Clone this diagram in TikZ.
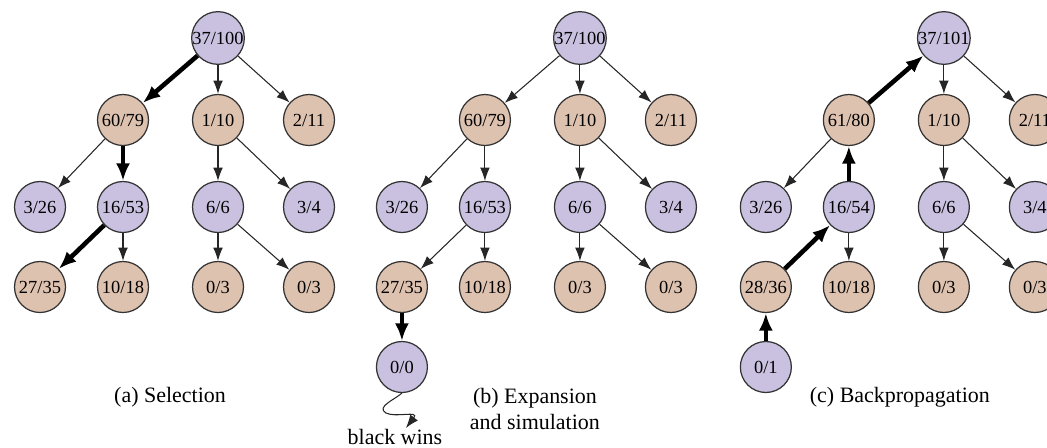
\documentclass[tikz,border=0pt]{standalone}
\usepackage{fontspec}
\setmainfont{Liberation Serif}
\usepackage{tikz}
\usetikzlibrary{arrows.meta}
\definecolor{purplec}{HTML}{C9C1DF}
\definecolor{tanc}{HTML}{DEC2B0}
\definecolor{rimc}{HTML}{333333}
\newcommand{\mcnode}[5]{%
  \node[mcts,fill=#4] (#1) at (#2,#3) {#5};
}
\tikzset{
  mcts/.style={circle,draw=rimc,line width=0.7pt,minimum size=1.02cm,inner sep=0pt,
    font=\fontsize{10.5}{12}\selectfont},
  thinarr/.style={-{Latex[length=7.5pt,width=5.5pt]},line width=0.6pt,black!85},
  boldarr/.style={-{Latex[length=10pt,width=8pt]},line width=2.6pt,black},
  caption/.style={font=\fontsize{12.5}{15}\selectfont,align=center}
}

\begin{document}
\begin{tikzpicture}[x=0.02cm,y=-0.02cm]
  \useasboundingbox (0,0) rectangle (1047,447);
  \clip (0,0) rectangle (1047,447);

  % (a) selection
  \begin{scope}
    \mcnode{a0}{218}{38}{purplec}{37/100}
    \mcnode{a1}{123}{120}{tanc}{60/79}
    \mcnode{a2}{218}{120}{tanc}{1/10}
    \mcnode{a3}{309}{120}{tanc}{2/11}
    \mcnode{a4}{40}{207}{purplec}{3/26}
    \mcnode{a5}{123}{207}{purplec}{16/53}
    \mcnode{a6}{218}{207}{purplec}{6/6}
    \mcnode{a7}{309}{207}{purplec}{3/4}
    \mcnode{a8}{40}{287}{tanc}{27/35}
    \mcnode{a9}{123}{287}{tanc}{10/18}
    \mcnode{a10}{218}{287}{tanc}{0/3}
    \mcnode{a11}{309}{287}{tanc}{0/3}
    \foreach \u/\v in {a0/a2,a0/a3,a1/a4,a2/a6,a2/a7,a5/a9,a6/a10,a6/a11}
      \draw[thinarr] (\u) -- (\v);
    \foreach \u/\v in {a0/a1,a1/a5,a5/a8}
      \draw[boldarr] (\u) -- (\v);
    \node[caption] (capa) at (170,397) {(a) Selection};
  \end{scope}

  % (b) expansion and simulation
  \begin{scope}[xshift=7.24cm]
    \mcnode{b0}{218}{38}{purplec}{37/100}
    \mcnode{b1}{123}{120}{tanc}{60/79}
    \mcnode{b2}{218}{120}{tanc}{1/10}
    \mcnode{b3}{309}{120}{tanc}{2/11}
    \mcnode{b4}{40}{207}{purplec}{3/26}
    \mcnode{b5}{123}{207}{purplec}{16/53}
    \mcnode{b6}{218}{207}{purplec}{6/6}
    \mcnode{b7}{309}{207}{purplec}{3/4}
    \mcnode{b8}{40}{287}{tanc}{27/35}
    \mcnode{b9}{123}{287}{tanc}{10/18}
    \mcnode{b10}{218}{287}{tanc}{0/3}
    \mcnode{b11}{309}{287}{tanc}{0/3}
    \mcnode{b12}{40}{367}{purplec}{0/0}
    \foreach \u/\v in {b0/b1,b0/b2,b0/b3,b1/b4,b1/b5,b2/b6,b2/b7,b5/b8,b5/b9,b6/b10,b6/b11}
      \draw[thinarr] (\u) -- (\v);
    \draw[boldarr] (b8) -- (b12);
    \node[caption] (bw) at (33,437) {black wins};
    \coordinate (bwtip) at (44,428);
    \draw[thinarr] (b12.south) .. controls (32,400) and (14,407) .. (24,413)
      .. controls (34,418) and (58,410) .. (bwtip);
    \node[caption] (capb) at (173,409) {(b) Expansion\\and simulation};
  \end{scope}

  % (c) backpropagation
  \begin{scope}[xshift=14.52cm]
    \mcnode{c0}{218}{38}{purplec}{37/101}
    \mcnode{c1}{123}{120}{tanc}{61/80}
    \mcnode{c2}{218}{120}{tanc}{1/10}
    \mcnode{c3}{309}{120}{tanc}{2/11}
    \mcnode{c4}{40}{207}{purplec}{3/26}
    \mcnode{c5}{123}{207}{purplec}{16/54}
    \mcnode{c6}{218}{207}{purplec}{6/6}
    \mcnode{c7}{309}{207}{purplec}{3/4}
    \mcnode{c8}{40}{287}{tanc}{28/36}
    \mcnode{c9}{123}{287}{tanc}{10/18}
    \mcnode{c10}{218}{287}{tanc}{0/3}
    \mcnode{c11}{309}{287}{tanc}{0/3}
    \mcnode{c12}{40}{367}{purplec}{0/1}
    \foreach \u/\v in {c0/c2,c0/c3,c1/c4,c2/c6,c2/c7,c5/c9,c6/c10,c6/c11}
      \draw[thinarr] (\u) -- (\v);
    \foreach \u/\v in {c12/c8,c8/c5,c5/c1,c1/c0}
      \draw[boldarr] (\u) -- (\v);
    \node[caption] (capc) at (174,397) {(c) Backpropagation};
  \end{scope}
\end{tikzpicture}
\end{document}
